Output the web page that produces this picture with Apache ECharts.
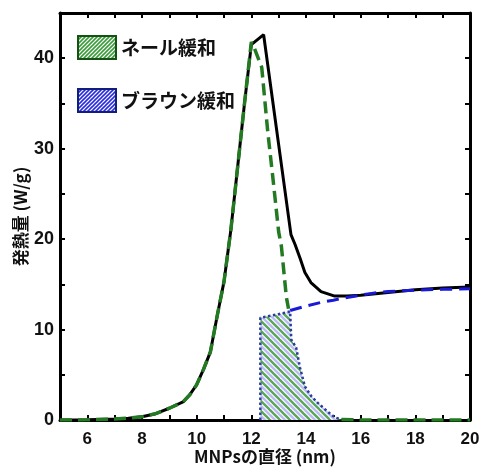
<!DOCTYPE html>
<html>
<head>
<meta charset="utf-8">
<script src="https://cdn.jsdelivr.net/npm/echarts@6/dist/echarts.min.js"></script>
<style>
  html, body { margin: 0; padding: 0; background: #fff; }
  #chart { width: 479px; height: 469px; }
</style>
</head>
<body>
<div id="chart"></div>
<script>
// 合計 (黒の実線)
var totalX = [5, 6, 7, 7.5, 8, 8.5, 9, 9.5, 9.75, 10, 10.25, 10.5, 10.75, 11, 11.25, 11.5, 11.75, 12, 12.45, 13.45, 13.6, 13.78, 13.96, 14.18, 14.55, 15.05, 15.5, 16, 17, 18, 19, 20];
var totalY = [0, 0.02, 0.1, 0.2, 0.35, 0.7, 1.3, 2.0, 2.8, 3.9, 5.6, 7.5, 11.5, 15.3, 21, 28, 35, 41.5, 42.6, 20.5, 19.4, 17.9, 16.3, 15.2, 14.2, 13.7, 13.7, 13.8, 14.1, 14.4, 14.6, 14.7];

// ネール緩和 (緑の破線)
var neelX = [5, 6, 7, 7.5, 8, 8.5, 9, 9.5, 9.75, 10, 10.25, 10.5, 10.75, 11, 11.25, 11.5, 11.75, 12, 12.1, 12.38, 12.6, 12.78, 13.0, 13.1, 13.28, 13.36, 14, 15.3, 16, 17, 18, 19, 20];
var neelY = [0, 0.02, 0.1, 0.2, 0.35, 0.7, 1.3, 2.0, 2.8, 3.9, 5.6, 7.5, 11.5, 15.3, 21, 28, 35, 41.8, 41.2, 39, 31.9, 27, 20.8, 19.2, 13.6, 12.3, '-', 0.05, 0, 0, 0, 0, 0];

// ブラウン緩和 (青の破線)
var brownX = [13.42, 14, 14.55, 15, 15.4, 16, 16.4, 17, 18, 19, 20];
var brownY = [12.1, 12.6, 13.0, 13.25, 13.5, 13.8, 14.0, 14.2, 14.35, 14.45, 14.5];

// 重なり部分 (斜線)
var overlapX = [12.33, 12.33, 13.0, 13.42, 13.46, 13.64, 13.78, 13.96, 14.2, 14.43, 14.8, 15.05, 15.3];
var overlapY = [0, 11.3, 11.7, 12.0, 8.9, 8.0, 5.8, 3.7, 2.6, 1.9, 0.9, 0.3, 0.05];

var legendNames = ['ネール緩和', 'ブラウン緩和'];

function zip(xs, ys) {
    var out = [];
    for (var i = 0; i < xs.length; i++) {
        out.push([xs[i], ys[i]]);
    }
    return out;
}

// 斜線パターン
function makeHatch(colors, bg, size, back, lw) {
    var c = document.createElement('canvas');
    c.width = size;
    c.height = size;
    var ctx = c.getContext('2d');
    ctx.fillStyle = bg;
    ctx.fillRect(0, 0, size, size);
    ctx.lineWidth = lw;
    for (var j = 0; j < colors.length; j++) {
        ctx.strokeStyle = colors[j];
        var off = j * size / colors.length;
        for (var k = -size; k <= size; k += size) {
            ctx.beginPath();
            if (back) {
                ctx.moveTo(k + off - 1, -1);
                ctx.lineTo(k + off + size + 1, size + 1);
            } else {
                ctx.moveTo(k + off - 1, size + 1);
                ctx.lineTo(k + off + size + 1, -1);
            }
            ctx.stroke();
        }
    }
    return { image: c, repeat: 'repeat' };
}

var overlapPattern = makeHatch(['#5aa65a', '#bcbcf4'], '#ffffff', 10, true, 2.4);
var neelPattern = makeHatch(['#3c9a3c'], '#ffffff', 4, false, 1.6);
var brownPattern = makeHatch(['#2a2ae0'], '#ffffff', 4, false, 1.6);

var myChart = echarts.init(document.getElementById('chart'));

var tickStyle = { show: true, inside: true, length: 5, lineStyle: { color: '#000', width: 2 } };
var lineStyleAxis = { show: true, onZero: false, lineStyle: { color: '#000', width: 3 } };

var option = {
    backgroundColor: '#fff',
    animation: false,
    grid: { left: 60, right: 9, top: 13, bottom: 49, outerBoundsMode: 'none', containLabel: false },
    legend: {
        orient: 'vertical',
        left: 77,
        top: 35,
        padding: 0,
        itemWidth: 38,
        itemHeight: 23,
        itemGap: 28,
        icon: 'rect',
        selectedMode: false,
        textStyle: { fontSize: 19, fontWeight: 'bold', color: '#111', fontFamily: 'Noto Sans CJK JP' },
        data: [
            { name: legendNames[0], itemStyle: { color: neelPattern, borderColor: '#145214', borderWidth: 2 } },
            { name: legendNames[1], itemStyle: { color: brownPattern, borderColor: '#10207a', borderWidth: 2 } }
        ]
    },
    xAxis: [
        {
            type: 'value',
            min: 5,
            max: 20,
            interval: 1,
            name: 'MNPsの直径 (nm)',
            nameLocation: 'middle',
            nameGap: 28,
            nameMoveOverlap: false,
            nameTextStyle: { fontSize: 17, fontWeight: 'bold', color: '#111', fontFamily: 'Noto Sans CJK JP' },
            axisLine: lineStyleAxis,
            axisTick: tickStyle,
            splitLine: { show: false },
            axisLabel: {
                margin: 11,
                fontSize: 17,
                fontWeight: 'bold',
                color: '#111',
                fontFamily: 'Liberation Sans',
                formatter: function (v) { return v % 2 === 0 ? String(v) : ''; }
            }
        },
        {
            type: 'value',
            position: 'top',
            min: 5,
            max: 20,
            interval: 1,
            axisLine: lineStyleAxis,
            axisTick: tickStyle,
            splitLine: { show: false },
            axisLabel: { show: false }
        }
    ],
    yAxis: [
        {
            type: 'value',
            min: 0,
            max: 45,
            interval: 5,
            name: '発熱量 (W/g)',
            nameLocation: 'middle',
            nameGap: 31,
            nameMoveOverlap: false,
            nameTextStyle: { fontSize: 17, fontWeight: 'bold', color: '#111', fontFamily: 'Noto Sans CJK JP' },
            axisLine: lineStyleAxis,
            axisTick: tickStyle,
            splitLine: { show: false },
            axisLabel: {
                margin: 6,
                fontSize: 18,
                fontWeight: 'bold',
                color: '#111',
                fontFamily: 'Liberation Sans',
                formatter: function (v) { return (v % 10 === 0 && v < 45) ? String(v) : ''; }
            }
        },
        {
            type: 'value',
            position: 'right',
            min: 0,
            max: 45,
            interval: 5,
            axisLine: lineStyleAxis,
            axisTick: tickStyle,
            splitLine: { show: false },
            axisLabel: { show: false }
        }
    ],
    series: [
        {
            name: '重なり',
            type: 'line',
            data: zip(overlapX, overlapY),
            showSymbol: false,
            lineStyle: { color: '#2a3f9a', width: 2.5, type: 'dotted' },
            areaStyle: { color: overlapPattern, opacity: 1 },
            z: 1
        },
        {
            name: '合計',
            type: 'line',
            data: zip(totalX, totalY),
            showSymbol: false,
            lineStyle: { color: '#000', width: 3 },
            z: 2
        },
        {
            name: legendNames[0],
            type: 'line',
            data: zip(neelX, neelY),
            showSymbol: false,
            connectNulls: false,
            lineStyle: { color: '#237a23', width: 3.5, type: [12, 6] },
            z: 3
        },
        {
            name: legendNames[1],
            type: 'line',
            data: zip(brownX, brownY),
            showSymbol: false,
            lineStyle: { color: '#1a1ad6', width: 3, type: [12, 7] },
            z: 3
        }
    ]
};

myChart.setOption(option);
</script>
</body>
</html>
